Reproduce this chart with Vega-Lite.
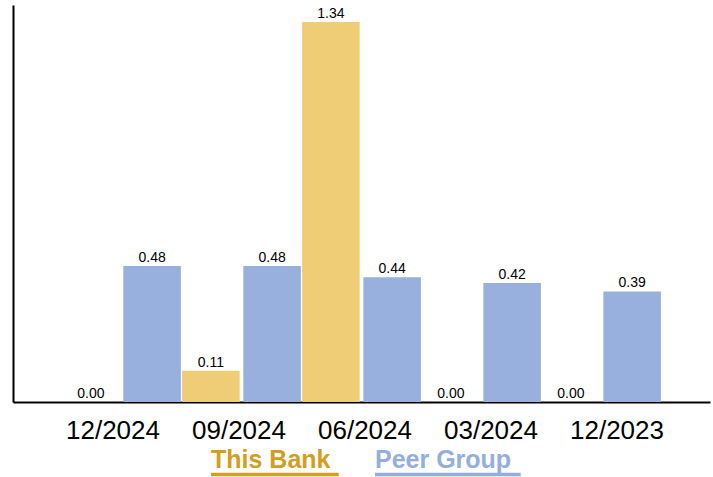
{
  "$schema": "https://vega.github.io/schema/vega-lite/v6.json",
  "width": 697,
  "height": 397,
  "autosize": {"type": "none"},
  "padding": {"left": 13, "top": 5, "right": 3, "bottom": 75},
  "background": "white",
  "config": {"view": {"stroke": null}, "font": "Liberation Sans"},
  "data": {
    "values": [
      {"period": "12/2024", "series": "This Bank", "value": 0.00},
      {"period": "12/2024", "series": "Peer Group", "value": 0.48},
      {"period": "09/2024", "series": "This Bank", "value": 0.11},
      {"period": "09/2024", "series": "Peer Group", "value": 0.48},
      {"period": "06/2024", "series": "This Bank", "value": 1.34},
      {"period": "06/2024", "series": "Peer Group", "value": 0.44},
      {"period": "03/2024", "series": "This Bank", "value": 0.00},
      {"period": "03/2024", "series": "Peer Group", "value": 0.42},
      {"period": "12/2023", "series": "This Bank", "value": 0.00},
      {"period": "12/2023", "series": "Peer Group", "value": 0.39}
    ]
  },
  "layer": [
    {
      "layer": [
        {
          "mark": {"type": "bar"},
          "encoding": {
            "x": {"field": "period", "type": "nominal", "sort": ["12/2024", "09/2024", "06/2024", "03/2024", "12/2023"], "scale": {"paddingInner": 0, "paddingOuter": 0.404}, "axis": null},
            "xOffset": {"field": "series", "type": "nominal", "sort": ["This Bank", "Peer Group"], "scale": {"paddingInner": 0.06, "paddingOuter": 0.01}},
            "y": {"field": "value", "type": "quantitative", "scale": {"domain": [0, 1.4]}, "axis": {"title": null, "labels": false, "ticks": false, "grid": false, "domain": true, "domainColor": "black", "domainWidth": 2}},
            "color": {
              "field": "series", "type": "nominal",
              "scale": {"domain": ["This Bank", "Peer Group"], "range": ["#EFCD76", "#97B0DE"]},
              "legend": {
                "orient": "none", "legendX": 198, "legendY": 442.2, "direction": "horizontal", "title": null, "padding": 0,
                "symbolSize": 16, "symbolStrokeWidth": 0, "symbolOffset": -10.5, "labelOffset": -14.5, "columnPadding": 20,
                "labelFontSize": 25, "labelFontWeight": "bold", "labelFont": "Liberation Sans", "labelLimit": 300,
                "encode": {
                  "symbols": {"update": {
                    "shape": {"signal": "datum.label === 'This Bank' ? 'M-1,7.225H62.85' : 'M-1,7.225H71.85'"},
                    "fill": {"signal": "datum.label === 'This Bank' ? '#D29E1E' : '#94AEDF'"},
                    "stroke": {"signal": "datum.label === 'This Bank' ? '#D29E1E' : '#94AEDF'"},
                    "strokeWidth": {"value": 3.7},
                    "strokeCap": {"value": "butt"},
                    "opacity": {"value": 1}
                  }},
                  "labels": {"update": {
                    "fill": {"signal": "datum.label === 'This Bank' ? '#D29E1E' : '#94AEDF'"}
                  }}
                }
              }
            }
          }
        },
        {
          "mark": {"type": "text", "dy": -4, "baseline": "alphabetic", "fontSize": 14, "color": "black", "font": "Liberation Sans"},
          "encoding": {
            "x": {"field": "period", "type": "nominal", "sort": ["12/2024", "09/2024", "06/2024", "03/2024", "12/2023"], "scale": {"paddingInner": 0, "paddingOuter": 0.404}, "axis": null},
            "xOffset": {"field": "series", "type": "nominal", "sort": ["This Bank", "Peer Group"], "scale": {"paddingInner": 0.06, "paddingOuter": 0.01}},
            "y": {"field": "value", "type": "quantitative", "axis": {"title": null, "labels": false, "ticks": false, "grid": false, "domain": true, "domainColor": "black", "domainWidth": 2}},
            "text": {"field": "value", "type": "quantitative", "format": ".2f"}
          }
        }
      ]
    },
    {
      "mark": {"type": "point", "opacity": 0},
      "encoding": {
        "x": {"field": "period", "type": "nominal", "sort": ["12/2024", "09/2024", "06/2024", "03/2024", "12/2023"], "scale": {"type": "band", "paddingInner": 0, "paddingOuter": 0.266, "align": 0.552},
          "axis": {"title": null, "labelAngle": 0, "labelFontSize": 26, "labelFont": "Liberation Sans", "labelColor": "black", "labelPadding": 15, "ticks": false, "grid": false, "domain": true, "domainColor": "black", "domainWidth": 2}},
        "y": {"field": "value", "type": "quantitative", "axis": {"title": null, "labels": false, "ticks": false, "grid": false, "domain": true, "domainColor": "black", "domainWidth": 2}}
      }
    }
  ],
  "resolve": {"scale": {"x": "independent"}}
}
